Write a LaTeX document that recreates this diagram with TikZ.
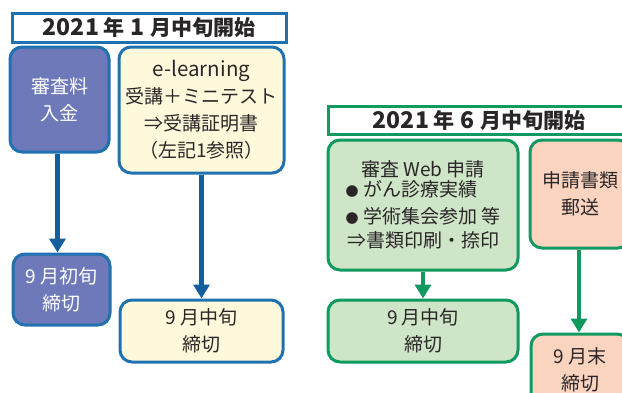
\documentclass[tikz,border=0pt]{standalone}
\usepackage{fontspec}
\setmainfont{Noto Sans CJK JP}
\usetikzlibrary{arrows.meta}
\definecolor{bborder}{HTML}{1F71B0}
\definecolor{barrow}{HTML}{135F9E}
\definecolor{purp}{HTML}{6E79B9}
\definecolor{cream}{HTML}{FDF9DA}
\definecolor{gborder}{HTML}{119A60}
\definecolor{gfill}{HTML}{CFE5C7}
\definecolor{salmon}{HTML}{FBD4C0}
\definecolor{txt}{HTML}{2A2628}
\newcommand{\dg}[1]{{\fontsize{23}{22}\selectfont #1}}
\tikzset{
  box/.style={rounded corners=12pt, line width=3pt, align=center, text=txt,
    font=\fontsize{19}{27}\selectfont, inner sep=0pt},
  bluebox/.style={box, draw=bborder},
  greenbox/.style={box, draw=gborder},
  titlebox/.style={line width=3pt, fill=white, inner sep=0pt},
  titletext/.style={text=txt, inner sep=0pt, font=\fontsize{21}{22}\selectfont\bfseries},
  barr/.style={line width=4.5pt, draw=barrow, -{Triangle[width=16pt,length=14pt]}},
  garr/.style={line width=4.5pt, draw=gborder, -{Triangle[width=16pt,length=14pt]}},
}
\begin{document}
\begin{tikzpicture}[x=1pt,y=-1pt]
\useasboundingbox (0,0) rectangle (622,392);
\clip (0,0) rectangle (622,392);
% left group
\node[titlebox, draw=bborder, minimum width=274pt, minimum height=29pt] (t1) at (149,27.5) {};
\node[titletext] (t1txt) at (149,28) {\dg{2021}\hspace{4pt}年\hspace{6pt}\dg{1}\hspace{6pt}月中旬開始};
\node[bluebox, fill=purp, text=white, minimum width=99pt, minimum height=105pt] (a) at (59.5,99.5) {審査料\\入金};
\node[bluebox, fill=cream, minimum width=165pt, minimum height=126pt] (b) at (201.5,110) {{\fontsize{20.5}{27}\selectfont e-learning}\\受講＋ミニテスト\\⇒受講証明書\\（左記1参照）};
\node[bluebox, fill=purp, text=white, minimum width=97pt, minimum height=71pt] (c) at (61.5,289.5) {9 月初旬\\締切};
\node[bluebox, fill=cream, minimum width=163pt, minimum height=62pt] (d) at (201.5,331) {9 月中旬\\締切};
\draw[barr] (a.south -| 57.5,0) -- (c.north -| 57.5,0);
\draw[barr] (b.south) -- (d.north);
% right group
\node[titlebox, draw=gborder, minimum width=302pt, minimum height=28pt] (t2) at (479,120) {};
\node[titletext] (t2txt) at (479,120.5) {\dg{2021}\hspace{4pt}年\hspace{6pt}\dg{6}\hspace{6pt}月中旬開始};
\node[greenbox, fill=gfill, minimum width=190pt, minimum height=130pt] (e) at (423,205)
  {審査 Web 申請\\[-1pt]\begin{tabular}{@{}l@{}}{\fontsize{13}{27}\selectfont ●} がん診療実績\\{\fontsize{13}{27}\selectfont ●} 学術集会参加 等\end{tabular}\\[-1pt]⇒書類印刷・捺印};
\node[greenbox, fill=salmon, minimum width=100pt, minimum height=108pt] (f) at (580,194) {申請書類\\郵送};
\node[greenbox, fill=gfill, minimum width=190pt, minimum height=62pt] (g) at (423,331) {9 月中旬\\締切};
\node[greenbox, fill=salmon, minimum width=98pt, minimum height=71pt] (h) at (580,369.5) {9 月末\\締切};
\draw[garr] (e.south) -- (g.north);
\draw[garr] (f.south -| 579,0) -- (h.north -| 579,0);
\end{tikzpicture}
\end{document}
